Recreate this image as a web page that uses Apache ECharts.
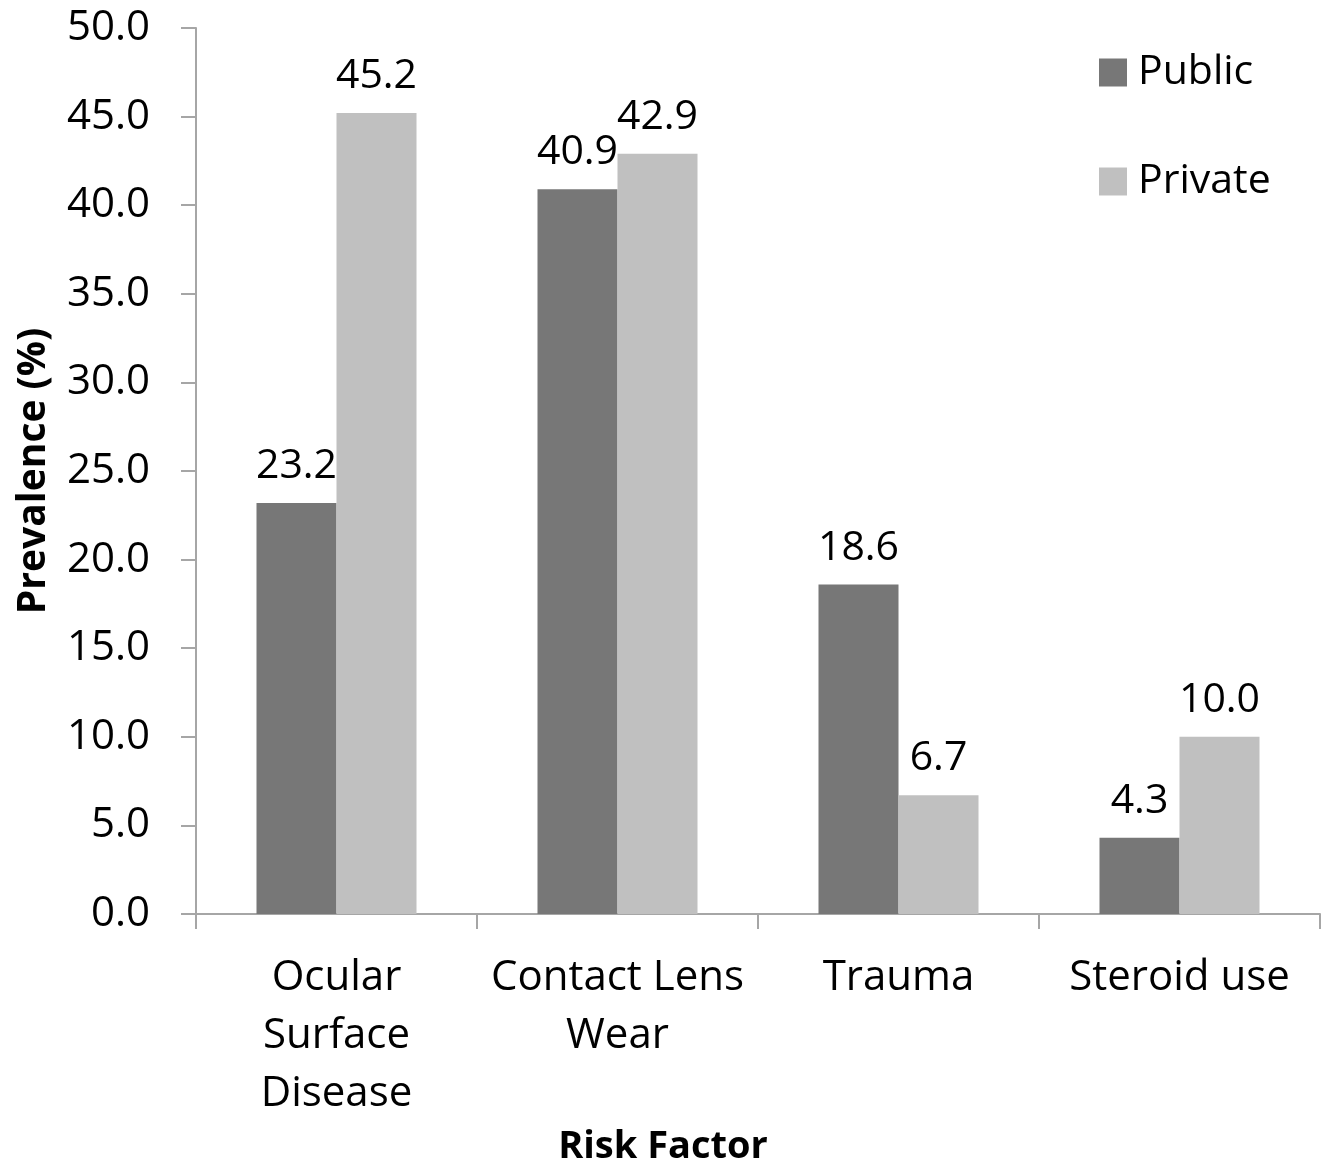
<!DOCTYPE html>
<html>
<head>
<meta charset="utf-8">
<script src="https://cdn.jsdelivr.net/npm/echarts@6/dist/echarts.min.js"></script>
<style>
  html, body { margin: 0; padding: 0; background: #ffffff; }
  #chart { width: 1329px; height: 1164px; }
</style>
</head>
<body>
<div id="chart"></div>
<script>
// Risk factors (category labels, wrapped onto lines)
const categories = ['Ocular\nSurface\nDisease', 'Contact Lens\nWear', 'Trauma', 'Steroid use'];
// Prevalence (%) by setting
const publicValues = [23.2, 40.9, 18.6, 4.3];
const privateValues = [45.2, 42.9, 6.7, 10.0];
const seriesNames = ['Public', 'Private'];

const FONT = '"Open Sans", "Noto Sans", sans-serif';
const axisGray = '#a6a6a6';

const chart = echarts.init(document.getElementById('chart'), null, { renderer: 'canvas' });

const labelStyle = {
  show: true,
  position: 'top',
  distance: 16,
  color: '#000',
  fontFamily: FONT,
  fontSize: 41,
  formatter: p => p.value.toFixed(1)
};

chart.setOption({
  backgroundColor: '#ffffff',
  animation: false,
  grid: { left: 196, right: 9, top: 28, bottom: 250, containLabel: false, outerBoundsMode: 'none' },
  legend: {
    orient: 'vertical',
    left: 1099,
    top: 52,
    padding: 0,
    itemWidth: 28,
    itemHeight: 28,
    itemGap: 68,
    icon: 'rect',
    textStyle: { fontFamily: FONT, fontSize: 41, color: '#000', padding: [0, 0, 0, 6] },
    data: seriesNames
  },
  xAxis: {
    type: 'category',
    data: categories,
    name: 'Risk Factor',
    nameLocation: 'middle',
    nameGap: 208,
    nameTextStyle: {
      fontFamily: FONT, fontSize: 38, fontWeight: 'bold', color: '#000',
      padding: [0, 190, 0, 0]
    },
    axisLine: { lineStyle: { color: axisGray, width: 2 } },
    axisTick: { show: true, length: 15, lineStyle: { color: axisGray, width: 2 } },
    axisLabel: {
      color: '#000',
      fontFamily: FONT,
      fontSize: 42,
      lineHeight: 58,
      margin: 35,
      interval: 0
    }
  },
  yAxis: {
    type: 'value',
    min: 0,
    max: 50,
    interval: 5,
    name: 'Prevalence (%)',
    nameLocation: 'middle',
    nameGap: 143,
    nameTextStyle: { fontFamily: FONT, fontSize: 39, fontWeight: 'bold', color: '#000' },
    axisLine: { show: true, lineStyle: { color: axisGray, width: 2 } },
    axisTick: { show: true, length: 15, lineStyle: { color: axisGray, width: 2 } },
    splitLine: { show: false },
    axisLabel: {
      color: '#000',
      fontFamily: FONT,
      fontSize: 42,
      margin: 46,
      formatter: v => v.toFixed(1)
    }
  },
  series: [
    {
      name: seriesNames[0],
      type: 'bar',
      data: publicValues,
      barWidth: 80,
      barGap: '0%',
      itemStyle: { color: '#777777' },
      label: labelStyle
    },
    {
      name: seriesNames[1],
      type: 'bar',
      data: privateValues,
      barWidth: 80,
      barGap: '0%',
      itemStyle: { color: '#c0c0c0' },
      label: labelStyle
    }
  ]
});
</script>
</body>
</html>
